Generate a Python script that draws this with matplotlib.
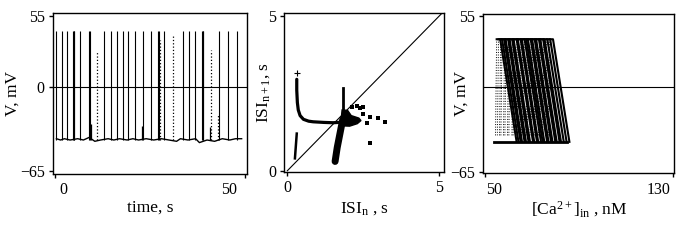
import matplotlib
matplotlib.use("Agg")
import matplotlib.pyplot as plt
import matplotlib.transforms as mtransforms

plt.rcParams['font.family'] = ['Liberation Serif', 'DejaVu Serif']
plt.rcParams['mathtext.fontset'] = 'custom'
plt.rcParams['mathtext.rm'] = 'Liberation Serif'
plt.rcParams['mathtext.it'] = 'Liberation Serif:italic'
plt.rcParams['font.size'] = 11

# ---- panel 1: membrane potential trace ----
spike_t = [0.4, 1.9, 3.3, 4.85, 5.0, 5.15, 6.6, 9.1, 9.3, 13.0, 14.7, 16.4, 18.0,
           19.1, 21.0, 23.2, 25.2, 27.2, 27.4, 28.8, 33.6, 35.3, 36.9, 38.75,
           38.9, 39.05, 43.2, 45.5, 47.8]
spike_peak = 43
partial_t = [11.1, 27.6, 31.1, 41.0, 42.9]
partial_peak = [27, 36, 40, 29, -22]
small_t = [9.45, 23.0, 40.8]
small_peak = [-29, -30, -31]
base_t = [0.4, 1.5, 2.5, 4.0, 6.0, 7.5, 9.0, 10.5, 12.0, 14.0, 15.5, 17.0, 19.0,
          20.5, 22.0, 24.0, 26.0, 28.0, 30.0, 32.0, 33.0, 35.0, 37.0, 38.0,
          40.0, 42.0, 44.0, 46.0, 47.5, 49.1]
base_v = [-40, -41, -40, -41, -40, -41, -39, -42, -41, -40, -41, -40, -41,
          -40, -41, -40, -41, -40, -41, -42, -40, -41, -40, -43,
          -41, -42, -40, -41, -40, -40]

# ---- panel 2: return map ISI_n+1 vs ISI_n ----
upper_x = [0.31, 0.31, 0.33, 0.36, 0.42, 0.53, 0.7, 0.85, 1.2, 1.5, 1.7]
upper_y = [2.95, 2.6, 2.2, 1.96, 1.78, 1.66, 1.6, 1.58, 1.56, 1.55, 1.56]
lower_x = [0.25, 0.31]
lower_y = [0.40, 1.20]
strip_x = [1.57, 1.64, 1.73, 1.82]
strip_y = [0.30, 0.75, 1.20, 1.65]
spur_x = [1.84, 1.84]
spur_y = [2.66, 1.70]
wedge_x = [1.75, 2.05, 2.30, 2.42, 2.35, 2.10, 1.98, 1.80]
wedge_y = [1.45, 1.44, 1.52, 1.62, 1.70, 1.78, 1.95, 1.96]
sparse_x = [2.39, 2.50, 2.72, 2.99, 3.21, 2.72, 2.62, 2.28, 2.12, 2.48]
sparse_y = [2.01, 2.06, 1.74, 1.69, 1.58, 0.88, 1.53, 2.10, 2.05, 1.82]
plus_x = [0.31]
plus_y = [3.16]

# ---- panel 3: V vs [Ca2+]in ----
loop_ca = [54.5, 55.3, 56.2, 56.8, 57.9, 58.5, 59.6, 60.2, 61.5, 62.0, 63.2, 63.7,
           64.9, 65.6, 66.3, 67.5, 68.1, 69.2, 69.8, 71.0, 71.6, 72.8, 73.4,
           74.6, 75.8, 77.0]
v_top = 37
v_bottom = -42
shift_down = 7.0

fig = plt.figure(figsize=(6.99, 2.40), dpi=100)
fig.patch.set_facecolor('white')

ax1 = fig.add_axes([0.0758, 0.275, 0.2775, 0.671])
ax2 = fig.add_axes([0.4067, 0.2833, 0.2285, 0.6625])
ax3 = fig.add_axes([0.6914, 0.278, 0.2733, 0.664])

for ax in (ax1, ax2, ax3):
    for s in ax.spines.values():
        s.set_linewidth(1.0)
    ax.tick_params(direction='out', length=3, width=1, pad=3, labelsize=11.5,
                   top=False, right=False)

# panel 1
ax1.plot(base_t, base_v, color='black', lw=1.0)
ax1.vlines(spike_t, -41, spike_peak, color='black', lw=0.8)
ax1.vlines(partial_t, -41, partial_peak, color='black', lw=0.9, linestyles=':')
ax1.vlines(small_t, -41, small_peak, color='black', lw=0.9)
ax1.axhline(0, color='black', lw=0.8)
ax1.set_xlim(-0.5, 50.5)
ax1.set_ylim(-67.3, 57.3)
ax1.set_xticks([0, 50])
ax1.set_yticks([-65, 0, 55])
ax1.set_xlabel('time, s', fontsize=12.5, labelpad=1)
ax1.set_ylabel('V, mV', fontsize=12.5)
ax1.yaxis.set_label_coords(-0.165, 0.5)

# panel 2
ax2.plot([0, 5.15], [0, 5.15], color='black', lw=0.8)
ax2.plot(upper_x, upper_y, color='black', lw=2.3, solid_capstyle='round')
ax2.plot(lower_x, lower_y, color='black', lw=1.8)
ax2.plot(strip_x, strip_y, color='black', lw=5, solid_capstyle='round')
ax2.plot(spur_x, spur_y, color='black', lw=2.0)
ax2.fill(wedge_x, wedge_y, color='black', lw=1)
ax2.scatter(sparse_x, sparse_y, s=6, color='black', marker='s', lw=0)
ax2.scatter(plus_x, plus_y, s=14, color='black', marker='+', lw=0.8)
ax2.set_xlim(-0.1, 5.15)
ax2.set_ylim(-0.04, 5.09)
ax2.set_xticks([0, 5])
ax2.set_yticks([0, 5])
ax2.set_xlabel(r'ISI$_{\rm n}$ , s', fontsize=12.5, labelpad=3)
ax2.set_ylabel(r'ISI$_{\rm n+1}$, s', fontsize=12.5)
ax2.yaxis.set_label_coords(-0.075, 0.5)

# panel 3
for c in loop_ca:
    ax3.plot([c, c + 0.5], [v_bottom + 5, v_top], color='black', lw=0.7, ls=':')
    ax3.plot([c + 0.5, c + 2.0, c + 2.0 + shift_down], [v_top, v_top, v_bottom],
             color='black', lw=1.5)
ax3.plot([54, 85], [v_bottom, v_bottom], color='black', lw=2.0)
ax3.axhline(0, color='black', lw=0.8)
ax3.set_xlim(49.3, 130.7)
ax3.set_ylim(-66.2, 56.5)
ax3.set_xticks([50, 130])
ax3.set_yticks([-65, 55])
ax3.set_xlabel(r'[Ca$^{2+}$]$_{\rm in}$ , nM', fontsize=12.5, labelpad=1)
ax3.set_ylabel('V, mV', fontsize=12.5)
ax3.yaxis.set_label_coords(-0.07, 0.5)

# shift end tick labels inward like the original
offsets = {ax1: (8, -16), ax3: (9, -14)}
for ax, (dl, dr) in offsets.items():
    labs = ax.get_xticklabels()
    labs[0].set_transform(labs[0].get_transform() +
                          mtransforms.ScaledTranslation(dl / 100, 0, fig.dpi_scale_trans))
    labs[-1].set_transform(labs[-1].get_transform() +
                           mtransforms.ScaledTranslation(dr / 100, 0, fig.dpi_scale_trans))

fig.savefig('out.png', dpi=100)
